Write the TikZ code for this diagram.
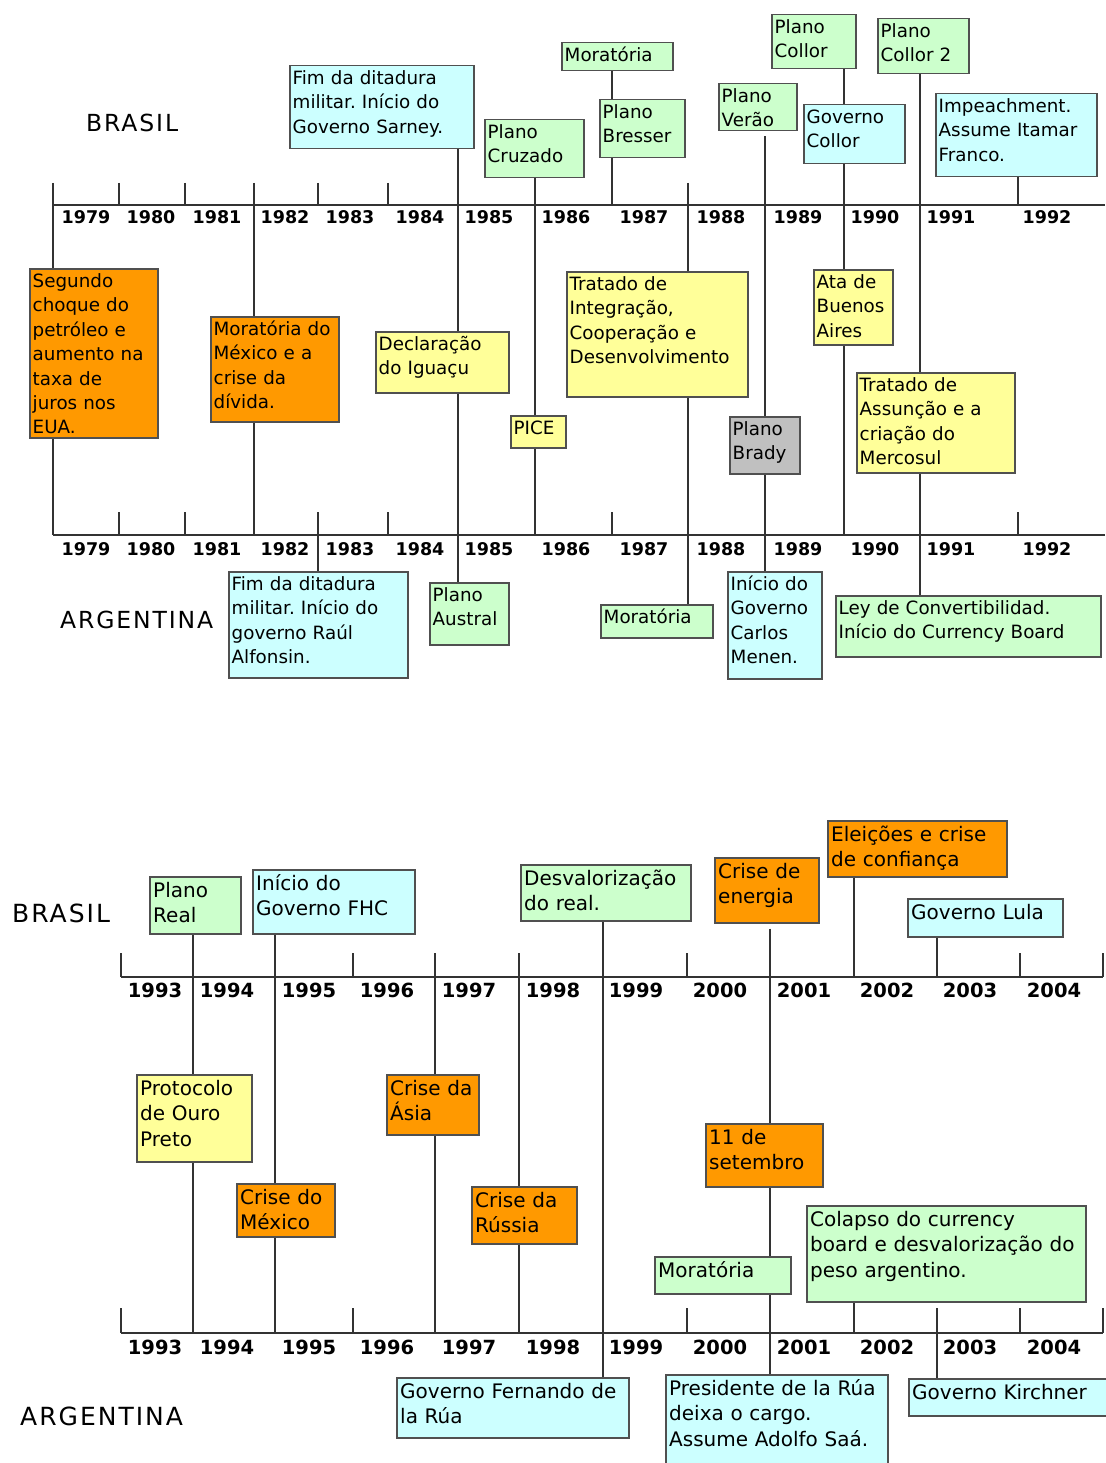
\documentclass[tikz,border=0pt]{standalone}
\usepackage{fontspec}
\setmainfont{DejaVu Sans}
\newfontfamily\countryfont[LetterSpace=8]{DejaVu Sans}
\frenchspacing
\definecolor{cyanbox}{HTML}{CCFFFF}
\definecolor{greenbox}{HTML}{CCFFCC}
\definecolor{yellowbox}{HTML}{FFFF99}
\definecolor{orangebox}{HTML}{FF9900}
\definecolor{graybox}{HTML}{C0C0C0}
\definecolor{linecol}{HTML}{333333}
\definecolor{bordercol}{HTML}{505050}
\pgfdeclarelayer{bg}
\pgfdeclarelayer{lines}
\pgfsetlayers{bg,lines,main}
\tikzset{
  evbox/.style={rectangle, draw=bordercol, line width=1.5pt, inner sep=0pt},
  txtA/.style={font=\frenchspacing\fontsize{18.3}{24.4}\selectfont, text width=400pt, align=left, inner sep=0pt, anchor=base west},
  txtB/.style={font=\frenchspacing\fontsize{20}{25.6}\selectfont, text width=400pt, align=left, inner sep=0pt, anchor=base west},
  conn/.style={draw=linecol, line width=1.4pt},
  axisline/.style={draw=linecol, line width=1.4pt},
  yearA/.style={font=\bfseries\fontsize{17.5}{20}\selectfont, anchor=base, inner sep=0pt},
  yearB/.style={font=\bfseries\fontsize{19.5}{22}\selectfont, anchor=base, inner sep=0pt},
  countryA/.style={font=\countryfont\fontsize{23.5}{26}\selectfont, anchor=base west, inner sep=0pt},
  countryB/.style={font=\countryfont\fontsize{25}{28}\selectfont, anchor=base west, inner sep=0pt},
}
% box with text, top section
\newcommand{\evA}[7]{%
  \pgfmathsetmacro{\evw}{#4-#2}%
  \pgfmathsetmacro{\evh}{#5-#3}%
  \node[evbox, fill=#6, minimum width=\evw pt, minimum height=\evh pt, anchor=north west] (#1) at (#2,#3) {};
  \node[txtA] (#1-t) at ({#2+3.5},{#3+19.5}) {#7};
}
% box with text, bottom section
\newcommand{\evB}[7]{%
  \pgfmathsetmacro{\evw}{#4-#2}%
  \pgfmathsetmacro{\evh}{#5-#3}%
  \node[evbox, fill=#6, minimum width=\evw pt, minimum height=\evh pt, anchor=north west] (#1) at (#2,#3) {};
  \node[txtB] (#1-t) at ({#2+4},{#3+21}) {#7};
}
\begin{document}
\begin{tikzpicture}[x=1pt,y=-1pt]
\useasboundingbox (0,0) rectangle (1105,1463);
\begin{pgfonlayer}{bg}
\fill[white] (0,0) rectangle (1105,1463);
\end{pgfonlayer}

% ---------------- labels ----------------
\node[countryA] (brA) at (86,132) {BRASIL};
\node[countryA] (arA) at (60,628) {ARGENTINA};
\node[countryB] (brB) at (12,922) {BRASIL};
\node[countryB] (arB) at (20,1425) {ARGENTINA};

% ---------------- top section boxes ----------------
\evA{sarney}{289}{65}{473}{148}{cyanbox}{Fim da ditadura\\militar. Início do\\Governo Sarney.}
\evA{cruzado}{484}{119}{583}{177}{greenbox}{Plano\\Cruzado}
\evA{moratBR}{561}{42}{672}{70}{greenbox}{Moratória}
\evA{bresser}{599}{99}{684}{157}{greenbox}{Plano\\Bresser}
\evA{verao}{718}{83}{796}{130}{greenbox}{Plano\\Verão}
\evA{pcollor}{771}{14}{855}{68}{greenbox}{Plano\\Collor}
\evA{gcollor}{803}{104}{904}{163}{cyanbox}{Governo\\Collor}
\evA{collor2}{877}{18}{968}{73}{greenbox}{Plano\\Collor 2}
\evA{impeach}{935}{93}{1096}{176}{cyanbox}{Impeachment.\\Assume Itamar\\Franco.}

\evA{segundo}{29}{268}{157}{437}{orangebox}{Segundo\\choque do\\petróleo e\\aumento na\\taxa de\\juros nos\\EUA.}
\evA{mexdiv}{210}{316}{338}{421}{orangebox}{Moratória do\\México e a\\crise da\\dívida.}
\evA{iguacu}{375}{331}{508}{392}{yellowbox}{Declaração\\do Iguaçu}
\evA{pice}{510}{415}{565}{447}{yellowbox}{PICE}
\evA{integr}{566}{271}{747}{396}{yellowbox}{Tratado de\\Integração,\\Cooperação e\\Desenvolvimento}
\evA{brady}{729}{416}{799}{473}{graybox}{Plano\\Brady}
\evA{ata}{813}{269}{892}{344}{yellowbox}{Ata de\\Buenos\\Aires}
\evA{assuncao}{856}{372}{1014}{472}{yellowbox}{Tratado de\\Assunção e a\\criação do\\Mercosul}

\evA{alfonsin}{228}{571}{407}{677}{cyanbox}{Fim da ditadura\\militar. Início do\\governo Raúl\\Alfonsin.}
\evA{austral}{429}{582}{508}{644}{greenbox}{Plano\\Austral}
\evA{moratAR}{600}{604}{712}{637}{greenbox}{Moratória}
\evA{menem}{727}{571}{821}{678}{cyanbox}{Início do\\Governo\\Carlos\\Menen.}
\evA{ley}{835}{595}{1100}{656}{greenbox}{Ley de Convertibilidad.\\Início do Currency Board}

% ---------------- bottom section boxes ----------------
\evB{real}{149}{876}{240}{933}{greenbox}{Plano\\Real}
\evB{fhc}{252}{869}{414}{933}{cyanbox}{Início do\\Governo FHC}
\evB{desval}{520}{864}{690}{920}{greenbox}{Desvalorização\\do real.}
\evB{energia}{714}{857}{818}{922}{orangebox}{Crise de\\energia}
\evB{eleicoes}{827}{820}{1006}{876}{orangebox}{Eleições e crise\\de confiança}
\evB{lula}{907}{898}{1062}{936}{cyanbox}{Governo Lula}

\evB{protocolo}{136}{1074}{251}{1161}{yellowbox}{Protocolo\\de Ouro\\Preto}
\evB{asia}{386}{1074}{478}{1134}{orangebox}{Crise da\\Ásia}
\evB{mexico}{236}{1183}{334}{1236}{orangebox}{Crise do\\México}
\evB{russia}{471}{1186}{576}{1243}{orangebox}{Crise da\\Rússia}
\evB{setembro}{705}{1123}{822}{1186}{orangebox}{11 de\\setembro}
\evB{moratAR2}{654}{1256}{790}{1293}{greenbox}{Moratória}
\evB{colapso}{806}{1205}{1085}{1301}{greenbox}{Colapso do currency\\board e desvalorização do\\peso argentino.}

\evB{fernando}{396}{1377}{628}{1437}{cyanbox}{Governo Fernando de\\la Rúa}
\evB{presidente}{665}{1374}{887}{1480}{cyanbox}{Presidente de la Rúa\\deixa o cargo.\\Assume Adolfo Saá.}
\evB{kirchner}{908}{1378}{1112}{1415}{cyanbox}{Governo Kirchner}

% ---------------- year labels ----------------
\foreach \yx/\yr in {86/1979,151/1980,217/1981,285/1982,350/1983,420/1984,489/1985,566/1986,644/1987,721/1988,798/1989,875/1990,951/1991,1047/1992}{
  \node[yearA] (ya\yr) at (\yx,224) {\yr};
  \node[yearA] (yb\yr) at (\yx,555) {\yr};
}
\foreach \yx/\yr in {155/1993,227/1994,309/1995,387/1996,469/1997,553/1998,636/1999,720/2000,804/2001,887/2002,970/2003,1054/2004}{
  \node[yearB] (yc\yr) at (\yx,997) {\yr};
  \node[yearB] (yd\yr) at (\yx,1354) {\yr};
}

% ---------------- axes, ticks and connectors ----------------
\begin{pgfonlayer}{lines}
% top section axis coordinates
\coordinate (A) at (53,205);  \coordinate (Ae) at (1105,205); \coordinate (At) at (53,183);
\coordinate (B) at (53,535);  \coordinate (Be) at (1105,535); \coordinate (Bt) at (53,512);
% bottom section axis coordinates
\coordinate (C) at (121,977);  \coordinate (Ce) at (1103,977);  \coordinate (Ct) at (121,953);
\coordinate (D) at (121,1333); \coordinate (De) at (1103,1333); \coordinate (Dt) at (121,1308);
% event x positions
\foreach \xx in {119,185,254,318,388,458,535,612,688,765,844,920,1018,
                 193,275,353,435,519,603,687,770,854,937,1020,1103}{
  \coordinate (x\xx) at (\xx,0);
}

\draw[axisline] (A) -- (Ae);
\draw[axisline] (B) -- (Be);
\draw[axisline] (C) -- (Ce);
\draw[axisline] (D) -- (De);

% ticks
\foreach \xx in {119,185,318,388}{ \draw[conn] (At -| x\xx) -- (A -| x\xx); }
\foreach \xx in {119,185,388,612,1018}{ \draw[conn] (Bt -| x\xx) -- (B -| x\xx); }
\foreach \xx in {353,687,1020,1103}{ \draw[conn] (Ct -| x\xx) -- (C -| x\xx); \draw[conn] (Dt -| x\xx) -- (D -| x\xx); }
\draw[conn] (Ct) -- (C);
\draw[conn] (Dt) -- (D);

% top section connectors
\draw[conn] (At) -- (B);
\draw[conn] (At -| x254) -- (B -| x254);
\draw[conn] (sarney.south -| x458) -- (austral.north -| x458);
\draw[conn] (cruzado.south -| x535) -- (B -| x535);
\draw[conn] (moratBR.south -| x612) -- (bresser.north -| x612);
\draw[conn] (bresser.south -| x612) -- (A -| x612);
\draw[conn] (At -| x688) -- (moratAR.north -| x688);
\draw[conn, shorten <=5pt] (verao.south -| x765) -- (menem.north -| x765);
\draw[conn] (pcollor.south -| x844) -- (gcollor.north -| x844);
\draw[conn] (gcollor.south -| x844) -- (B -| x844);
\draw[conn] (collor2.south -| x920) -- (ley.north -| x920);
\draw[conn] (impeach.south -| x1018) -- (A -| x1018);
\draw[conn] (Bt -| x318) -- (alfonsin.north -| x318);

% bottom section connectors
\draw[conn] (real.south -| x193) -- (D -| x193);
\draw[conn] (fhc.south -| x275) -- (D -| x275);
\draw[conn] (Ct -| x435) -- (D -| x435);
\draw[conn] (Ct -| x519) -- (D -| x519);
\draw[conn] (desval.south -| x603) -- (fernando.north -| x603);
\draw[conn, shorten <=5pt] (energia.south -| x770) -- (presidente.north -| x770);
\draw[conn] (eleicoes.south -| x854) -- (C -| x854);
\draw[conn] (colapso.south -| x854) -- (D -| x854);
\draw[conn] (lula.south -| x937) -- (C -| x937);
\draw[conn] (Dt -| x937) -- (kirchner.north -| x937);
\end{pgfonlayer}
\end{tikzpicture}
\end{document}
